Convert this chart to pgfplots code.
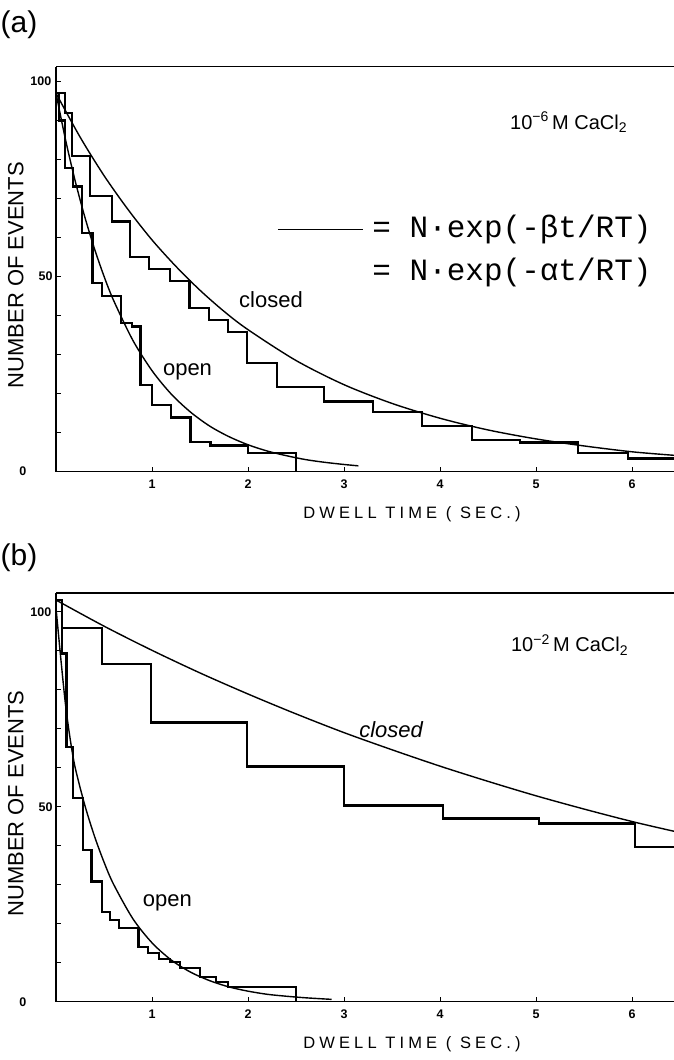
\documentclass[border=0pt]{standalone}
\usepackage{pgfplots}
\pgfplotsset{compat=1.18}
\usepackage{fontspec}
\setmainfont{Liberation Sans}
\setmonofont{Liberation Mono}
\newfontfamily\dwell[LetterSpace=25]{Liberation Sans}
\begin{document}
\begin{tikzpicture}
\useasboundingbox (0,0) rectangle (674bp,1060bp);
\pgfplotsset{
 panel/.style={
  scale only axis, width=618bp,
  xmin=0, xmax=6.4375, ymin=0,
  axis x line=box, axis y line=left,
  axis line style={-, line width=1.4bp},
  xtick={1,...,6}, xtick pos=bottom,
  ytick={0,10,...,100},
  yticklabels={{\makebox[33bp][l]{0}},,,,,{50},,,,,{\makebox[22bp][l]{100}}},
  tick align=inside, major tick length=5bp,
  tick style={line width=1bp, black},
  /pgf/number format/assume math mode=true,
  tick label style={font=\fontsize{12.5bp}{14bp}\selectfont\bfseries},
  xticklabel style={yshift=-5bp},
  xlabel={DWELL TIME ( SEC.)},
  xlabel style={at={(axis description cs:0.576,-0.104)}, anchor=center, font=\fontsize{16.5bp}{19bp}\selectfont\dwell},
  ylabel={NUMBER OF EVENTS},
  ylabel style={at={(axis description cs:-0.065,0.485)}, anchor=center, rotate=0, font=\fontsize{22bp}{26bp}\selectfont},
  hist/.style={const plot, line width=2.2bp, black},
  fit/.style={smooth, line width=1.4bp, black},
 }
}
% ---------------- panel (a) ----------------
\node at (19bp,1035bp) {\fontsize{30bp}{34bp}\selectfont (a)};
\begin{axis}[panel, at={(56bp,588.3bp)}, anchor=south west, height=405bp, ymax=103.8]
% closed histogram
\addplot[hist] coordinates {(0,97) (0.094,92) (0.163,81) (0.354,70.7) (0.58,64.1) (0.77,55.1) (0.97,52) (1.19,48.9) (1.39,42) (1.59,38.9) (1.79,35.7) (1.99,27.8) (2.30,21.8) (2.79,18.0) (3.30,15.2) (3.81,11.8) (4.33,8.1) (4.83,7.5) (5.44,4.7) (5.96,3.4) (6.4375,3.4)};
% open histogram
\addplot[hist] coordinates {(0,97) (0.03,90) (0.094,77.8) (0.18,73.1) (0.27,61.1) (0.38,48.3) (0.48,45.1) (0.68,38.2) (0.79,37.2) (0.88,22.2) (1.00,17.1) (1.20,13.9) (1.40,7.7) (1.61,6.7) (2.00,4.7) (2.50,0)};
% closed fit
\addplot[fit] coordinates {(0,97) (0.25,85.8) (0.5,75.9) (0.75,67.2) (1.0,59.4) (1.25,52.6) (1.5,46.5) (1.75,41.1) (2.0,36.4) (2.5,28.5) (3.0,22.3) (3.5,17.5) (4.0,13.7) (4.5,10.7) (5.0,8.4) (5.5,6.6) (6.0,5.1) (6.4375,4.2)};
% open fit
\addplot[fit] coordinates {(0,97) (0.1,85.0) (0.2,74.5) (0.3,65.3) (0.4,57.2) (0.5,50.1) (0.6,43.9) (0.8,33.7) (1.0,25.9) (1.2,19.9) (1.4,15.3) (1.6,11.7) (1.8,9.0) (2.0,6.9) (2.2,5.3) (2.4,4.1) (2.6,3.1) (2.8,2.4) (3.0,1.85) (3.15,1.5)};
% legend sample line
\addplot[line width=1.4bp, black] coordinates {(2.31,62) (3.2,62)};
\node at (axis cs:5.34,89.6) {\fontsize{20bp}{23bp}\selectfont 10\textsuperscript{−6}\,M CaCl\textsubscript{2}};
\node[anchor=east] at (axis cs:6.24,62) {\fontsize{31bp}{36bp}\selectfont\ttfamily = N·exp(-βt/RT)};
\node[anchor=east] at (axis cs:6.24,51) {\fontsize{31bp}{36bp}\selectfont\ttfamily = N·exp(-αt/RT)};
\node at (axis cs:2.24,44) {\fontsize{22bp}{26bp}\selectfont closed};
\node at (axis cs:1.37,25.6) {\fontsize{22bp}{26bp}\selectfont open};
\end{axis}
% ---------------- panel (b) ----------------
\node at (19bp,502bp) {\fontsize{30bp}{34bp}\selectfont (b)};
\begin{axis}[panel, at={(56bp,58.3bp)}, anchor=south west, height=408.7bp, ymax=104.8]
% closed histogram
\addplot[hist] coordinates {(0,103) (0.06,95.9) (0.48,86.5) (0.99,71.6) (1.99,60.3) (3.0,50.3) (4.03,47.0) (5.03,45.7) (6.03,39.7) (6.4375,39.7)};
% open histogram
\addplot[hist] coordinates {(0,103) (0.06,89.3) (0.11,65.4) (0.18,52.2) (0.28,38.9) (0.37,30.8) (0.48,23.1) (0.56,20.9) (0.66,19.0) (0.86,14.0) (0.96,12.4) (1.07,11.0) (1.19,10.2) (1.29,8.6) (1.50,6.4) (1.67,5.1) (1.79,3.8) (2.50,0)};
% closed fit
\addplot[fit] coordinates {(0,103) (0.5,96.3) (1,90.1) (1.5,84.3) (2,78.9) (2.5,73.8) (3,69.0) (3.5,64.6) (4,60.4) (4.5,56.5) (5,52.8) (5.5,49.4) (6,46.2) (6.4375,43.7)};
% open fit
\addplot[fit] coordinates {(0,101) (0.05,88) (0.1,76) (0.15,67) (0.2,60) (0.3,50.4) (0.4,42.5) (0.5,35.8) (0.6,30.1) (0.8,21.3) (1.0,15.1) (1.2,10.7) (1.4,7.6) (1.6,5.4) (1.8,3.8) (2.0,2.7) (2.2,1.9) (2.4,1.4) (2.6,1.0) (2.87,0.6)};
\node at (axis cs:5.35,91.5) {\fontsize{20bp}{23bp}\selectfont 10\textsuperscript{−2}\,M CaCl\textsubscript{2}};
\node at (axis cs:3.49,69.7) {\fontsize{22bp}{26bp}\selectfont\itshape closed};
\node at (axis cs:1.16,25.3) {\fontsize{22bp}{26bp}\selectfont open};
\end{axis}
\end{tikzpicture}
\end{document}
